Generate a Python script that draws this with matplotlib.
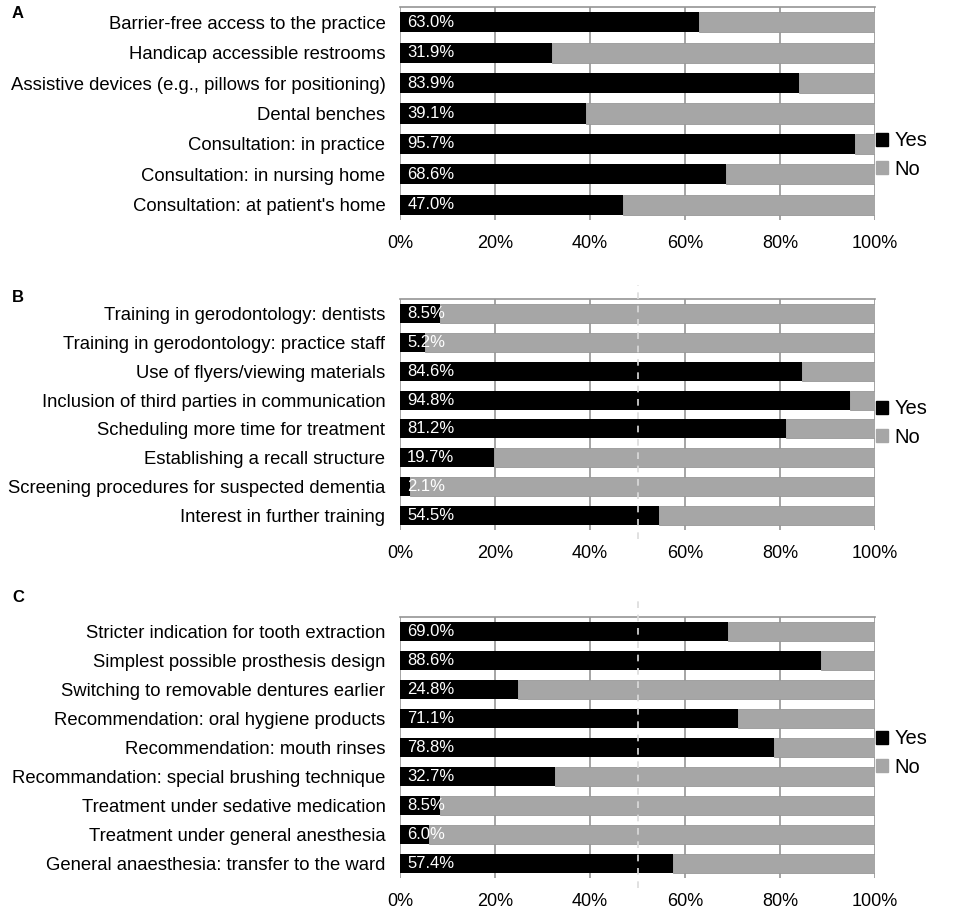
import matplotlib
matplotlib.use("Agg")
import matplotlib.pyplot as plt
from matplotlib.patches import Patch

plt.rcParams['font.family'] = ['Liberation Sans', 'DejaVu Sans']

cats_a = ["Barrier-free access to the practice", "Handicap accessible restrooms",
          "Assistive devices (e.g., pillows for positioning)", "Dental benches",
          "Consultation: in practice", "Consultation: in nursing home",
          "Consultation: at patient's home"]
yes_a = [63.0, 31.9, 83.9, 39.1, 95.7, 68.6, 47.0]

cats_b = ["Training in gerodontology: dentists", "Training in gerodontology: practice staff",
          "Use of flyers/viewing materials", "Inclusion of third parties in communication",
          "Scheduling more time for treatment", "Establishing a recall structure",
          "Screening procedures for suspected dementia", "Interest in further training"]
yes_b = [8.5, 5.2, 84.6, 94.8, 81.2, 19.7, 2.1, 54.5]

cats_c = ["Stricter indication for tooth extraction", "Simplest possible prosthesis design",
          "Switching to removable dentures earlier", "Recommendation: oral hygiene products",
          "Recommendation: mouth rinses", "Recommandation: special brushing technique",
          "Treatment under sedative medication", "Treatment under general anesthesia",
          "General anaesthesia: transfer to the ward"]
yes_c = [69.0, 88.6, 24.8, 71.1, 78.8, 32.7, 8.5, 6.0, 57.4]

xticks = [0, 20, 40, 60, 80, 100]
xticklabels = ["0%", "20%", "40%", "60%", "80%", "100%"]
panel_letters = ["A", "B", "C"]

W, H = 957, 915
fig = plt.figure(figsize=(W / 100, H / 100), dpi=100)

GRAY = '#a6a6a6'
GRID = '#959595'
boxes = [(7, 220), (299, 530), (617, 878)]
legend_y = [155, 423, 753]
left_px, right_px = 400, 875
letter_y = [13, 298, 597]

panels = [(cats_a, yes_a, False), (cats_b, yes_b, True), (cats_c, yes_c, True)]

for i, ((cats, yes, dashed), (top, bot)) in enumerate(zip(panels, boxes)):
    ax = fig.add_axes([left_px / W, 1 - bot / H, (right_px - left_px) / W, (bot - top) / H])
    n = len(cats)
    y = list(range(n))
    no = [100 - v for v in yes]
    ax.barh(y, yes, height=0.66, color='black', zorder=2)
    ax.barh(y, no, left=yes, height=0.66, color=GRAY, edgecolor='#989898', linewidth=0.6, zorder=2)
    for yi, v in zip(y, yes):
        ax.text(1.5, yi, f"{v:.1f}%", color='white', va='center', ha='left', fontsize=12, zorder=4)
    ax.set_xlim(0, 100)
    ax.set_ylim(n - 0.5, -0.5)
    ax.set_yticks(y)
    ax.set_yticklabels(cats, fontsize=13.3)
    ax.set_xticks(xticks)
    ax.set_xticklabels(xticklabels, fontsize=13)
    ax.tick_params(axis='x', length=0, pad=10.5)
    ax.tick_params(axis='y', length=0, pad=10.5)
    ax.xaxis.grid(True, color=GRID, linewidth=1.2, zorder=1)
    ax.set_axisbelow(True)
    for s in ['left', 'right', 'bottom']:
        ax.spines[s].set_visible(False)
    ax.spines['top'].set_color(GRID)
    ax.spines['top'].set_linewidth(1.2)
    if dashed:
        ax.axvline(50, ymin=-0.04, ymax=1.06, color='#dcdcdc', linestyle=(0, (4, 4)),
                   linewidth=1.2, zorder=3, clip_on=False)
    fig.text(12 / W, 1 - letter_y[i] / H, panel_letters[i], fontsize=12, fontweight='bold',
             va='center', ha='left')
    handles = [Patch(facecolor='black', edgecolor='black'), Patch(facecolor=GRAY, edgecolor=GRAY)]
    fig.legend(handles, ["Yes", "No"], loc='center left',
               bbox_to_anchor=(858 / W, 1 - legend_y[i] / H), frameon=False,
               fontsize=14.5, handlelength=0.6, handleheight=0.6, handletextpad=0.3,
               labelspacing=0.45)

fig.savefig("out.png", dpi=100)
